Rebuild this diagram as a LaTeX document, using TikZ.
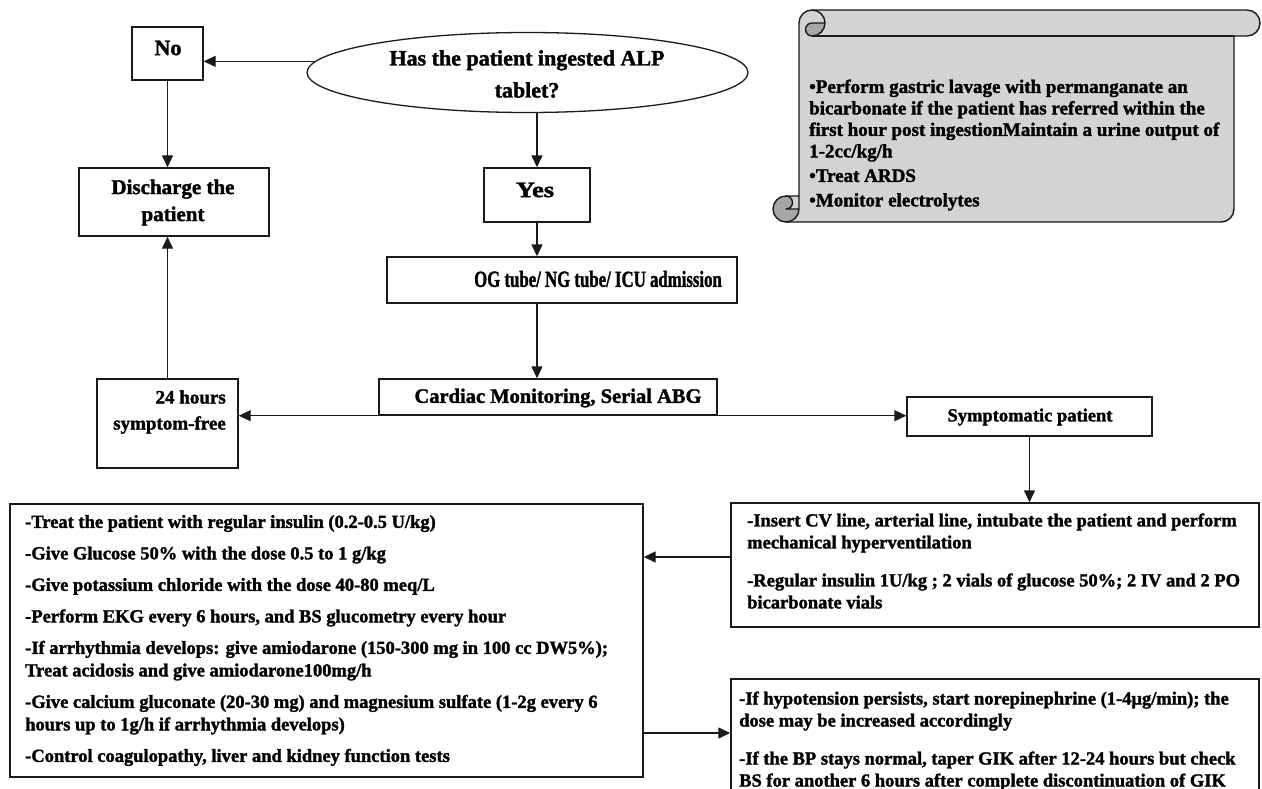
\documentclass[tikz,border=0pt]{standalone}
\usepackage{fontspec}
\setmainfont{Liberation Serif}[BoldFeatures={FakeBold=1.6}]
\usetikzlibrary{arrows.meta,shapes.geometric,calc}
\newcommand\myfs[2]{\fontsize{#1}{#2}\selectfont\bfseries}
\definecolor{lncol}{HTML}{1A1A1A}
\definecolor{scrl}{HTML}{D3D3D3}
\definecolor{curlc}{HTML}{A6A6A6}
\tikzset{
  box/.style={draw=lncol, line width=1.4pt, rectangle, inner sep=0pt},
  arr/.style={draw=lncol, line width=1.4pt, -{Triangle[length=12pt,width=11pt]}},
  tx/.style={inner sep=0pt, text=black},
  lst/.style={inner sep=0pt, text=black, align=left, font=\myfs{18.5}{22.5}},
  scrollline/.style={draw=lncol, line width=1.4pt, line join=round},
}
\begin{document}
\begin{tikzpicture}[x=1pt,y=-1pt]
\useasboundingbox (0,0) rectangle (1262,789);
\clip (0,0) rectangle (1262,789);
\fill[white] (0,0) rectangle (1262,789);

% helper rows
\coordinate (y557) at (0,557);
\coordinate (y733) at (0,733);

% ---------- scroll ----------
\fill[scrl] (799,196) -- (799,23) arc[start angle=180, delta angle=90, radius=13]
  -- (1247,10) arc[start angle=270, delta angle=180, radius=13]
  -- (1234,36) -- (1234,209) arc[start angle=0, delta angle=90, radius=13]
  -- (786,222) arc[start angle=90, delta angle=180, radius=13] -- cycle;
\fill[curlc] (825,23) arc[start angle=0, delta angle=90, radius=13]
  arc[start angle=90, delta angle=180, radius=6.5] -- cycle;
\fill[curlc] (799,209) arc[start angle=0, delta angle=270, radius=13]
  arc[start angle=270, delta angle=180, radius=6.5] -- cycle;
\draw[scrollline] (799,196) -- (799,23) arc[start angle=180, delta angle=90, radius=13]
  -- (1247,10) arc[start angle=270, delta angle=180, radius=13]
  -- (1234,36) -- (1234,209) arc[start angle=0, delta angle=90, radius=13]
  -- (786,222) arc[start angle=90, delta angle=180, radius=13] -- cycle;
\draw[scrollline] (812,10) arc[start angle=270, delta angle=180, radius=13]
  arc[start angle=90, delta angle=180, radius=6.5] -- (825,23);
\draw[scrollline] (1234,36) -- (812,36);
\draw[scrollline] (786,196) arc[start angle=270, delta angle=180, radius=6.5] -- (799,209);
\draw[scrollline] (786,222) arc[start angle=90, delta angle=-90, radius=13] -- (799,196);
\node[tx, align=left, anchor=west, font=\myfs{19}{21.5}] (scrtx) at (809,145)
  {•Perform gastric lavage with permanganate an\\
   bicarbonate if the patient has referred  within the\\
   first hour post ingestionMaintain a urine  output of\\
   1-2cc/kg/h\\[3pt]
   •Treat ARDS\\[3pt]
   •Monitor electrolytes};

% ---------- nodes ----------
\node[box, minimum width=71pt, minimum height=53pt] (no) at (167.5,53.5) {};
\node[tx, font=\myfs{22}{26}] (notx) at (168,48) {No};

\node[draw=lncol, line width=1.3pt, ellipse, inner sep=0pt,
      minimum width=441pt, minimum height=80pt] (q) at (527.5,72.5) {};
\node[tx, align=center, font=\myfs{22}{32}] (qtx) at (527,74)
  {Has the patient ingested ALP\\tablet?};

\node[box, minimum width=190pt, minimum height=68pt] (dis) at (174,202) {};
\node[tx, align=center, font=\myfs{21}{27}] (distx) at (173,202.5) {Discharge the\\patient};

\node[box, minimum width=106pt, minimum height=54pt] (yes) at (537,195) {};
\node[tx, font=\myfs{22}{26}] (yestx) at (535,190) {\scalebox{1.2}[1]{Yes}};

\node[box, minimum width=350pt, minimum height=46pt] (og) at (562,280) {};
\node[tx, font=\myfs{23}{26}] (ogtx) at (598,279)
  {\scalebox{0.73}[1]{OG tube/ NG tube/ ICU admission}};

\node[box, minimum width=338pt, minimum height=36pt] (card) at (548,397) {};
\node[tx, font=\myfs{20.5}{24}] (cardtx) at (558,398) {Cardiac Monitoring, Serial ABG};

\node[box, minimum width=141pt, minimum height=89pt] (h24) at (167.5,423.5) {};
\node[tx, align=right, anchor=east, font=\myfs{19}{26}] (h24tx) at (226,412)
  {24 hours\\symptom-free};

\node[box, minimum width=245pt, minimum height=39pt] (sym) at (1029.5,416.5) {};
\node[tx, font=\myfs{18.5}{22}] (symtx) at (1030,417) {Symptomatic patient};

\node[box, minimum width=528pt, minimum height=124pt] (ins) at (995,565) {};
\node[lst, anchor=west, font=\myfs{18.5}{22}] (instx) at (747,561)
  {-Insert CV line,  arterial line,  intubate the patient and perform\\
   mechanical hyperventilation\\[16pt]
   -Regular insulin 1U/kg ; 2 vials of glucose 50\%; 2 IV and 2 PO\\
   bicarbonate vials};

\node[box, minimum width=633pt, minimum height=273pt] (bl) at (326.5,640.5) {};
\node[lst, anchor=west] (bltx) at (25,640.5)
  {-Treat the patient with regular insulin (0.2-0.5 U/kg)\\[9pt]
   -Give Glucose 50\% with the dose 0.5 to 1 g/kg\\[9pt]
   -Give potassium chloride with the dose 40-80 meq/L\\[9pt]
   -Perform EKG every 6 hours, and BS glucometry every hour\\[9pt]
   -If arrhythmia develops: give amiodarone (150-300 mg in 100 cc DW5\%);\\
   Treat acidosis and give amiodarone100mg/h\\[9pt]
   -Give calcium gluconate (20-30 mg) and magnesium sulfate (1-2g every 6\\
   hours up to 1g/h if arrhythmia develops)\\[9pt]
   -Control coagulopathy, liver and kidney function tests};

\node[box, minimum width=528pt, minimum height=124pt] (br) at (995,741) {};
\node[lst, anchor=west, font=\myfs{18.5}{22}] (brtx) at (739,741)
  {-If hypotension persists,  start norepinephrine (1-4μg/min); the\\
   dose may be increased accordingly\\[16pt]
   -If the BP stays normal, taper GIK after 12-24 hours but check\\
   BS for another 6 hours after complete discontinuation of GIK};

% ---------- connectors ----------
\draw[arr] (q.177.2) -- (no.east |- q.177.2);
\draw[arr] (no.south) -- (no.south |- dis.north);
\draw[arr] (q.south -| yes.north) -- (yes.north);
\draw[arr] (yes.south) -- (yes.south |- og.north);
\draw[arr] (og.south -| yes.south) -- (card.north -| yes.south);
\draw[arr] (card.south west) -- (card.south west -| h24.east);
\draw[arr] (card.south east) -- (card.south east -| sym.west);
\draw[arr] (h24.north) -- (h24.north |- dis.south);
\draw[arr] (sym.south) -- (sym.south |- ins.north);
\draw[arr] (ins.west |- y557) -- (bl.east |- y557);
\draw[arr] (bl.east |- y733) -- (br.west |- y733);
\end{tikzpicture}
\end{document}
